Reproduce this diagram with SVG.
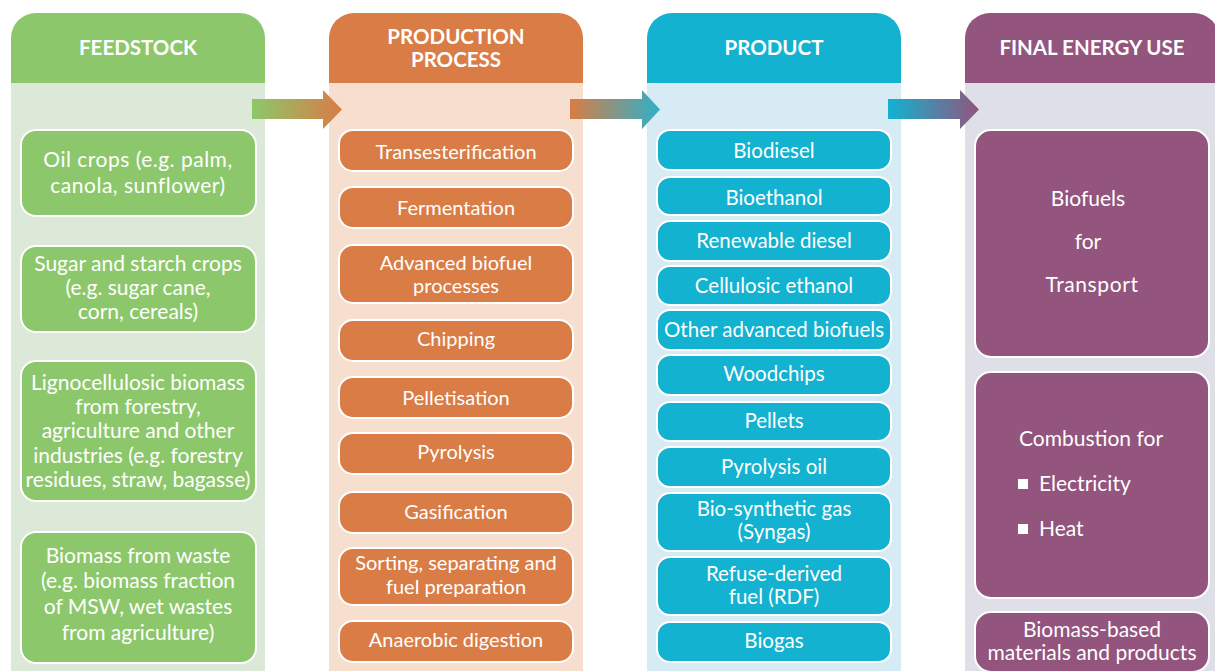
<svg xmlns="http://www.w3.org/2000/svg" width="1215" height="671" viewBox="0 0 1215 671">
<defs>
<linearGradient id="g1" x1="0" x2="1" y1="0" y2="0"><stop offset="0" stop-color="#8cc86b"/><stop offset="1" stop-color="#d97c45"/></linearGradient>
<linearGradient id="g2" x1="0" x2="1" y1="0" y2="0"><stop offset="0" stop-color="#d97c45"/><stop offset="1" stop-color="#2fb0c8"/></linearGradient>
<linearGradient id="g3" x1="0" x2="1" y1="0" y2="0"><stop offset="0" stop-color="#12b2d0"/><stop offset="1" stop-color="#93547e"/></linearGradient>
</defs>
<style>
text{font-family:Lato,"Noto Sans","Liberation Sans",sans-serif;fill:#ffffff;text-anchor:middle;font-size:20px}
.hd{font-weight:bold;font-size:20.5px}
.f{font-size:21px}
.p{font-size:20.5px}
.u{font-size:21px}
.box{stroke:#ffffff;stroke-width:2}
.gr{fill:#8cc86b}.or{fill:#d97c45}.cy{fill:#12b2d0}.pu{fill:#93547e}
</style>
<rect width="1215" height="671" fill="#ffffff"/>
<g id="col-feedstock">
<rect x="11" y="83" width="254" height="600" fill="#dde9d8"/>
<path d="M11 83 V38 A25 25 0 0 1 36 13 H240 A25 25 0 0 1 265 38 V83 Z" class="gr"/>
<text class="hd" x="138" y="55">FEEDSTOCK</text>
</g>
<g id="col-process">
<rect x="329" y="83" width="254" height="600" fill="#f7dfcf"/>
<path d="M329 83 V38 A25 25 0 0 1 354 13 H558 A25 25 0 0 1 583 38 V83 Z" class="or"/>
<text class="hd" x="456" y="44">PRODUCTION</text>
<text class="hd" x="456" y="67">PROCESS</text>
</g>
<g id="col-product">
<rect x="647" y="83" width="254" height="600" fill="#d6ebf3"/>
<path d="M647 83 V38 A25 25 0 0 1 672 13 H876 A25 25 0 0 1 901 38 V83 Z" class="cy"/>
<text class="hd" x="774" y="55">PRODUCT</text>
</g>
<g id="col-final">
<rect x="965" y="83" width="254" height="600" fill="#dfdfe8"/>
<path d="M965 83 V38 A25 25 0 0 1 990 13 H1194 A25 25 0 0 1 1219 38 V83 Z" class="pu"/>
<text class="hd" x="1092" y="55">FINAL ENERGY USE</text>
</g>
<g id="connectors">
<path d="M252 99 H323 V90 L342 109.5 L323 129 V119 H252 Z" fill="url(#g1)"/>
<path d="M570 99 H642 V90 L660 109.5 L642 129 V119 H570 Z" fill="url(#g2)"/>
<path d="M888 99 H960 V90 L979 109.5 L960 129 V119 H888 Z" fill="url(#g3)"/>
</g>
<g id="feed-oil"><rect class="box gr" x="21" y="130" width="235" height="86" rx="15"/><text class="f" x="138" y="167" letter-spacing="0.5">Oil crops (e.g. palm,</text><text class="f" x="138" y="193" letter-spacing="0.5">canola, sunflower)</text></g>
<g id="feed-sugar"><rect class="box gr" x="21" y="246" width="235" height="86" rx="15"/><text class="f" x="138" y="271">Sugar and starch crops</text><text class="f" x="138" y="295">(e.g. sugar cane,</text><text class="f" x="138" y="319">corn, cereals)</text></g>
<g id="feed-ligno"><rect class="box gr" x="21" y="361" width="235" height="140" rx="15"/><text class="f" x="138" y="390">Lignocellulosic biomass</text><text class="f" x="138" y="414">from forestry,</text><text class="f" x="138" y="438">agriculture and other</text><text class="f" x="138" y="463">industries (e.g. forestry</text><text class="f" x="138" y="487">residues, straw, bagasse)</text></g>
<g id="feed-waste"><rect class="box gr" x="21" y="532" width="235" height="131" rx="15"/><text class="f" x="138" y="563">Biomass from waste</text><text class="f" x="138" y="588">(e.g. biomass fraction</text><text class="f" x="138" y="614">of MSW, wet wastes</text><text class="f" x="138" y="640">from agriculture)</text></g>
<g id="proc-trans"><rect class="box or" x="339" y="130" width="234" height="41" rx="14"/><text x="456" y="159">Transesterification</text></g>
<g id="proc-ferm"><rect class="box or" x="339" y="187" width="234" height="41" rx="14"/><text x="456" y="215">Fermentation</text></g>
<g id="proc-adv"><rect class="box or" x="339" y="245" width="234" height="58" rx="14"/><text x="456" y="270">Advanced biofuel</text><text x="456" y="293">processes</text></g>
<g id="proc-chip"><rect class="box or" x="339" y="320" width="234" height="41" rx="14"/><text x="456" y="346">Chipping</text></g>
<g id="proc-pellet"><rect class="box or" x="339" y="377" width="234" height="41" rx="14"/><text x="456" y="405">Pelletisation</text></g>
<g id="proc-pyro"><rect class="box or" x="339" y="433" width="234" height="41" rx="14"/><text x="456" y="459">Pyrolysis</text></g>
<g id="proc-gas"><rect class="box or" x="339" y="492" width="234" height="41" rx="14"/><text x="456" y="519">Gasification</text></g>
<g id="proc-sort"><rect class="box or" x="339" y="548" width="234" height="57" rx="14"/><text x="456" y="570">Sorting, separating and</text><text x="456" y="594">fuel preparation</text></g>
<g id="proc-anaer"><rect class="box or" x="339" y="621" width="234" height="41" rx="14"/><text x="456" y="647">Anaerobic digestion</text></g>
<g id="prod-biodiesel"><rect class="box cy" x="657" y="130" width="234" height="40" rx="13"/><text class="p" x="774" y="158">Biodiesel</text></g>
<g id="prod-bioethanol"><rect class="box cy" x="657" y="177" width="234" height="38" rx="13"/><text class="p" x="774" y="205">Bioethanol</text></g>
<g id="prod-renew"><rect class="box cy" x="657" y="221" width="234" height="40" rx="13"/><text class="p" x="774" y="248">Renewable diesel</text></g>
<g id="prod-cellu"><rect class="box cy" x="657" y="266" width="234" height="39" rx="13"/><text class="p" x="774" y="293">Cellulosic ethanol</text></g>
<g id="prod-other"><rect class="box cy" x="657" y="310" width="234" height="40" rx="13"/><text class="p" x="774" y="337">Other advanced biofuels</text></g>
<g id="prod-wood"><rect class="box cy" x="657" y="355" width="234" height="40" rx="13"/><text class="p" x="774" y="381">Woodchips</text></g>
<g id="prod-pellets"><rect class="box cy" x="657" y="402" width="234" height="39" rx="13"/><text class="p" x="774" y="428">Pellets</text></g>
<g id="prod-pyro"><rect class="box cy" x="657" y="447" width="234" height="40" rx="13"/><text class="p" x="774" y="474">Pyrolysis oil</text></g>
<g id="prod-syngas"><rect class="box cy" x="657" y="493" width="234" height="58" rx="13"/><text class="p" x="774" y="516">Bio-synthetic gas</text><text class="p" x="774" y="539">(Syngas)</text></g>
<g id="prod-rdf"><rect class="box cy" x="657" y="557" width="234" height="58" rx="13"/><text class="p" x="774" y="581">Refuse-derived</text><text class="p" x="774" y="604">fuel (RDF)</text></g>
<g id="prod-biogas"><rect class="box cy" x="657" y="622" width="234" height="40" rx="13"/><text class="p" x="774" y="648">Biogas</text></g>
<g id="use-transport"><rect class="box pu" x="975" y="130" width="234" height="227" rx="16"/><text class="u" x="1088" y="206">Biofuels</text><text class="u" x="1088" y="249">for</text><text class="u" x="1092" y="292" letter-spacing="0.6">Transport</text></g>
<g id="use-combustion"><rect class="box pu" x="975" y="372" width="234" height="226" rx="16"/><text class="u" x="1091" y="446">Combustion for</text><rect x="1018" y="479" width="10" height="10" fill="#ffffff"/><text class="u" x="1039" y="491" style="text-anchor:start">Electricity</text><rect x="1018" y="524" width="10" height="10" fill="#ffffff"/><text class="u" x="1039" y="536" style="text-anchor:start">Heat</text></g>
<g id="use-materials"><rect class="box pu" x="975" y="612" width="234" height="60" rx="16"/><text class="u" x="1092" y="637">Biomass-based</text><text class="u" x="1092" y="660">materials and products</text></g>
</svg>
